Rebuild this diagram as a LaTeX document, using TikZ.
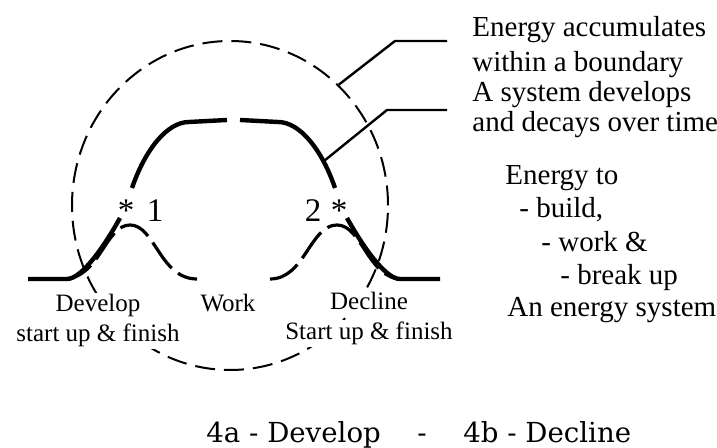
\documentclass[tikz,border=0pt]{standalone}
\usepackage{fontspec}
\setmainfont{Liberation Serif}
\newfontfamily\capfont{DejaVu Serif}
\usetikzlibrary{shapes.geometric}

\begin{document}
\begin{tikzpicture}[x=0.5pt, y=0.5pt,
  life/.style={line width=2.2pt},
  hump/.style={line width=1.6pt, dash pattern=on 16pt off 4pt},
  lead/.style={line width=1.2pt},
  lbl/.style={font=\fontsize{12.5}{15}\selectfont, fill=white, inner sep=1pt, anchor=base},
  num/.style={font=\fontsize{16.5}{19}\selectfont, inner sep=0pt, anchor=base},
  note/.style={font=\fontsize{14.5}{17}\selectfont, inner sep=0pt, anchor=base west},
  captxt/.style={font=\capfont\fontsize{13.8}{16}\selectfont, inner sep=0pt}]
\useasboundingbox (0,0) rectangle (717,448);

% the boundary
\node[ellipse, draw, dash pattern=on 10pt off 4.5pt, line width=1pt,
      minimum width=158pt, minimum height=164.5pt, inner sep=0pt] (bound) at (230,242.5) {};

% develop and decline humps
\draw[hump] (63,169) .. controls (100,169) and (105,223) .. (130,223)
            .. controls (155,223) and (160,169) .. (197,169);
\draw[hump] (270,169) .. controls (305,169) and (310,223) .. (337,223)
            .. controls (362,223) and (368,169) .. (402,169);

% life of the system, broken at 1, 2 and the top
\draw[life] (28,169) -- (67,169) .. controls (82,169) and (105,203) .. (120,230);
\draw[life] (132,260) .. controls (145,298) and (167,326) .. (189,326) -- (227,328);
\draw[life] (240,328) -- (278,326) .. controls (300,326) and (322,298) .. (335,260);
\draw[life] (347,230) .. controls (362,203) and (385,169) .. (400,169) -- (440,169);

% leaders
\coordinate (tap) at (324,287);
\coordinate (k1) at (395,407);
\coordinate (e1) at (447,407);
\coordinate (k2) at (387,338);
\coordinate (e2) at (447,338);
\draw[lead] (bound.48) -- (k1) -- (e1);
\draw[lead] (tap) -- (k2) -- (e2);

\node[num] (s1) at (126,226) {*};
\node[num] (n1) at (155,226) {1};
\node[num] (n2) at (313,226) {2};
\node[num] (s2) at (339,226) {*};

\node[lbl] (dv) at (98,136) {Develop};
\node[lbl] (dvs) at (98,106) {start up \& finish};
\node[lbl] (wk) at (228,136) {Work};
\node[lbl] (dc) at (369,138) {Decline};
\node[lbl] (dcs) at (369,108) {Start up \& finish};

\node[note] (t1) at (472,411) {Energy accumulates};
\node[note] (t2) at (472,376) {within a boundary};
\node[note] (t3) at (472,346) {A system develops};
\node[note] (t4) at (472,316) {and decays over time};
\node[note] (t5) at (505,263) {Energy to};
\node[note] (t6) at (519,230) {- build,};
\node[note] (t7) at (541,196) {- work \&};
\node[note] (t8) at (560,163) {- break up};
\node[note] (t9) at (507,131) {An energy system};

\node[captxt, anchor=base west] (c1) at (206,5) {4a - Develop};
\node[captxt, anchor=base] (c2) at (422,5) {-};
\node[captxt, anchor=base west] (c3) at (463,5) {4b - Decline};
\end{tikzpicture}
\end{document}
